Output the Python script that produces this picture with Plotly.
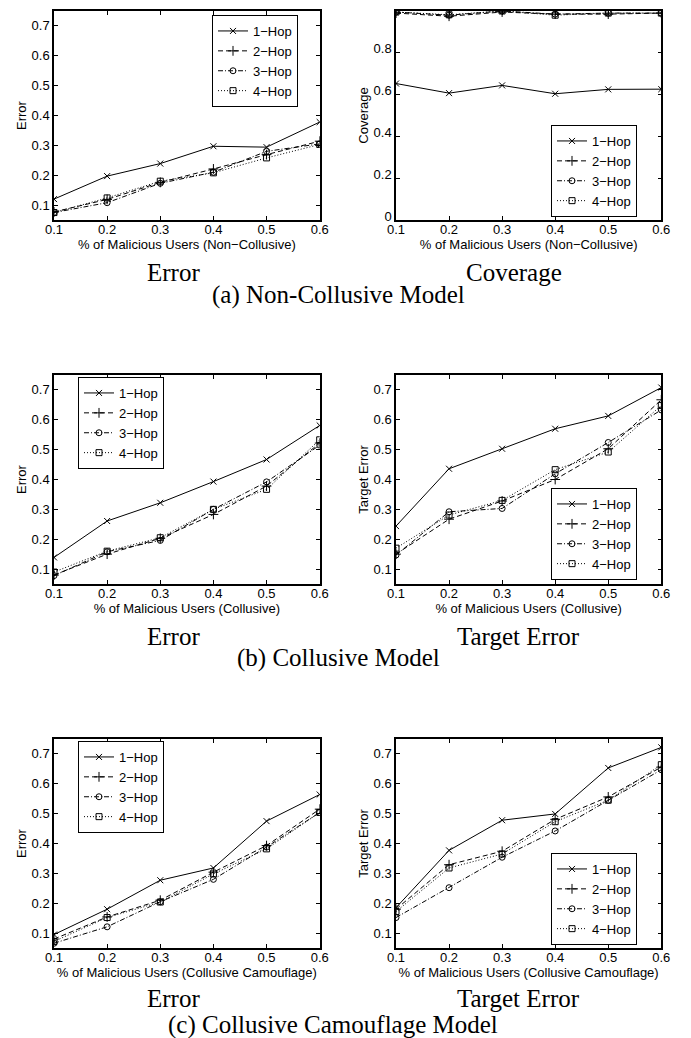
import plotly.graph_objects as go

# ---------------- data ----------------
malicious_frac = [0.1, 0.2, 0.3, 0.4, 0.5, 0.6]
x_tick_labels = ["0.1", "0.2", "0.3", "0.4", "0.5", "0.6"]
err_tick_vals = [0.1, 0.2, 0.3, 0.4, 0.5, 0.6, 0.7]
err_tick_labels = ["0.1", "0.2", "0.3", "0.4", "0.5", "0.6", "0.7"]
cov_tick_vals = [0, 0.2, 0.4, 0.6, 0.8, 1.0]
cov_tick_labels = ["0", "0.2", "0.4", "0.6", "0.8", "1"]
series_names = ["1\u2212Hop", "2\u2212Hop", "3\u2212Hop", "4\u2212Hop"]

# (a) Non-Collusive: Error
nc_err_1 = [0.120, 0.197, 0.239, 0.297, 0.294, 0.378]
nc_err_2 = [0.077, 0.119, 0.176, 0.221, 0.269, 0.314]
nc_err_3 = [0.075, 0.108, 0.173, 0.210, 0.280, 0.305]
nc_err_4 = [0.075, 0.124, 0.180, 0.208, 0.258, 0.303]
# (a) Non-Collusive: Coverage
nc_cov_1 = [0.653, 0.607, 0.644, 0.604, 0.625, 0.626]
nc_cov_2 = [0.990, 0.975, 0.995, 0.985, 0.985, 0.990]
nc_cov_3 = [0.995, 0.980, 1.000, 0.985, 0.990, 0.990]
nc_cov_4 = [0.995, 0.982, 1.000, 0.980, 0.990, 0.990]
# (b) Collusive: Error
c_err_1 = [0.139, 0.261, 0.322, 0.393, 0.467, 0.581]
c_err_2 = [0.080, 0.150, 0.203, 0.283, 0.378, 0.522]
c_err_3 = [0.078, 0.158, 0.196, 0.300, 0.392, 0.515]
c_err_4 = [0.090, 0.160, 0.205, 0.300, 0.367, 0.533]
# (b) Collusive: Target Error
c_terr_1 = [0.244, 0.436, 0.503, 0.570, 0.613, 0.708]
c_terr_2 = [0.150, 0.267, 0.328, 0.400, 0.503, 0.667]
c_terr_3 = [0.147, 0.292, 0.303, 0.419, 0.524, 0.633]
c_terr_4 = [0.170, 0.281, 0.330, 0.433, 0.492, 0.648]
# (c) Collusive Camouflage: Error
cc_err_1 = [0.095, 0.180, 0.277, 0.318, 0.475, 0.564]
cc_err_2 = [0.080, 0.154, 0.210, 0.304, 0.393, 0.515]
cc_err_3 = [0.066, 0.121, 0.205, 0.280, 0.388, 0.504]
cc_err_4 = [0.072, 0.152, 0.204, 0.298, 0.382, 0.504]
# (c) Collusive Camouflage: Target Error
cc_terr_1 = [0.185, 0.377, 0.478, 0.499, 0.653, 0.722]
cc_terr_2 = [0.180, 0.329, 0.374, 0.481, 0.556, 0.656]
cc_terr_3 = [0.152, 0.252, 0.354, 0.442, 0.545, 0.647]
cc_terr_4 = [0.172, 0.318, 0.365, 0.473, 0.545, 0.664]

x_titles = ["% of Malicious Users (Non\u2212Collusive)",
            "% of Malicious Users (Collusive)",
            "% of Malicious Users (Collusive Camouflage)"]
panel_titles = [["Error", "Coverage"], ["Error", "Target Error"], ["Error", "Target Error"]]
y_titles = [["Error", "Coverage"], ["Error", "Target Error"], ["Error", "Target Error"]]
captions = ["(a) Non-Collusive Model", "(b) Collusive Model", "(c) Collusive Camouflage Model"]

panels = [
    [[nc_err_1, nc_err_2, nc_err_3, nc_err_4], [nc_cov_1, nc_cov_2, nc_cov_3, nc_cov_4]],
    [[c_err_1, c_err_2, c_err_3, c_err_4], [c_terr_1, c_terr_2, c_terr_3, c_terr_4]],
    [[cc_err_1, cc_err_2, cc_err_3, cc_err_4], [cc_terr_1, cc_terr_2, cc_terr_3, cc_terr_4]],
]

# ---------------- layout geometry ----------------
W, H = 691, 1038
col_px = [(46, 311.7), (388, 653.3)]
row_px = [(3, 212), (367, 576), (731, 940)]

dashes = ["solid", "5px,3px", "5px,2px,1px,2px", "1px,2px"]
symbols = ["x-thin-open", "cross-thin-open", "circle-open", "square-open"]
msizes = [6, 7, 6, 6]

# legend placement (px): (x, y, xanchor, yanchor)
legend_px = [
    [(290, 7, "right", "top"), (629, 209, "right", "bottom")],
    [(70, 369, "left", "top"), (629, 572, "right", "bottom")],
    [(70, 733, "left", "top"), (629, 937, "right", "bottom")],
]

fig = go.Figure()
axis_font = dict(family="Liberation Sans, Arial, sans-serif", size=13, color="black")
layout = dict(
    width=W, height=H,
    margin=dict(l=0, r=0, t=0, b=0, autoexpand=False),
    paper_bgcolor="white", plot_bgcolor="white",
    showlegend=True,
    annotations=[],
)

idx = 0
for r in range(3):
    for c in range(2):
        idx += 1
        xa = "x" if idx == 1 else f"x{idx}"
        ya = "y" if idx == 1 else f"y{idx}"
        leg = "legend" if idx == 1 else f"legend{idx}"
        for s in range(4):
            fig.add_trace(go.Scatter(
                x=malicious_frac, y=panels[r][c][s],
                mode="lines+markers", name=series_names[s],
                xaxis=xa, yaxis=ya, legend=leg,
                line=dict(color="black", width=1, dash=dashes[s]),
                marker=dict(symbol=symbols[s], size=msizes[s], color="black",
                            line=dict(color="black", width=1)),
            ))
        x0, x1 = col_px[c]
        y0, y1 = row_px[r]
        is_cov = (r == 0 and c == 1)
        common = dict(
            showline=True, linecolor="black", linewidth=1.5, mirror="ticks",
            ticks="inside", ticklen=4, tickwidth=1, tickcolor="black",
            showgrid=False, zeroline=False, tickfont=axis_font, automargin=False,
        )
        layout["xaxis" if idx == 1 else f"xaxis{idx}"] = dict(
            domain=[x0 / W, x1 / W], anchor=ya, range=[0.1, 0.6],
            tickvals=malicious_frac, ticktext=x_tick_labels,
            ticklabelstandoff=-3,
            title=dict(text=x_titles[r], font=axis_font, standoff=0),
            **common,
        )
        ydict = dict(
            domain=[1 - y1 / H, 1 - y0 / H], anchor=xa,
            range=[0, 1] if is_cov else [0.05, 0.75],
            tickvals=cov_tick_vals if is_cov else err_tick_vals,
            ticktext=cov_tick_labels if is_cov else err_tick_labels,
            title=dict(text=y_titles[r][c], font=axis_font, standoff=2),
            **common,
        )
        if is_cov:
            ydict["ticklabelshift"] = -4
        layout["yaxis" if idx == 1 else f"yaxis{idx}"] = ydict
        lx, ly, xan, yan = legend_px[r][c]
        layout[leg] = dict(
            x=lx / W, y=1 - ly / H, xanchor=xan, yanchor=yan,
            xref="paper", yref="paper",
            bgcolor="white", bordercolor="black", borderwidth=1,
            font=dict(family="Liberation Sans, Arial, sans-serif", size=13, color="black"),
            tracegroupgap=0, itemwidth=30,
        )

serif = dict(family="Liberation Serif, Times New Roman, serif", size=25, color="black")
title_centers = [[(165.5, 264.5), (506, 264.5)], [(165.5, 628.5), (510, 628.5)], [(165.5, 990), (510, 990)]]
caption_centers = [(330, 286.5), (330.5, 649.5), (324.5, 1017)]
for r in range(3):
    for c in range(2):
        cx, cy = title_centers[r][c]
        layout["annotations"].append(dict(
            text=panel_titles[r][c], x=cx / W, y=1 - cy / H, xref="paper", yref="paper",
            xanchor="center", yanchor="middle", showarrow=False, font=serif))
    cx, cy = caption_centers[r]
    layout["annotations"].append(dict(
        text=captions[r], x=cx / W, y=1 - cy / H, xref="paper", yref="paper",
        xanchor="center", yanchor="middle", showarrow=False, font=serif))

fig.update_layout(**layout)
fig.write_html("out.html")
